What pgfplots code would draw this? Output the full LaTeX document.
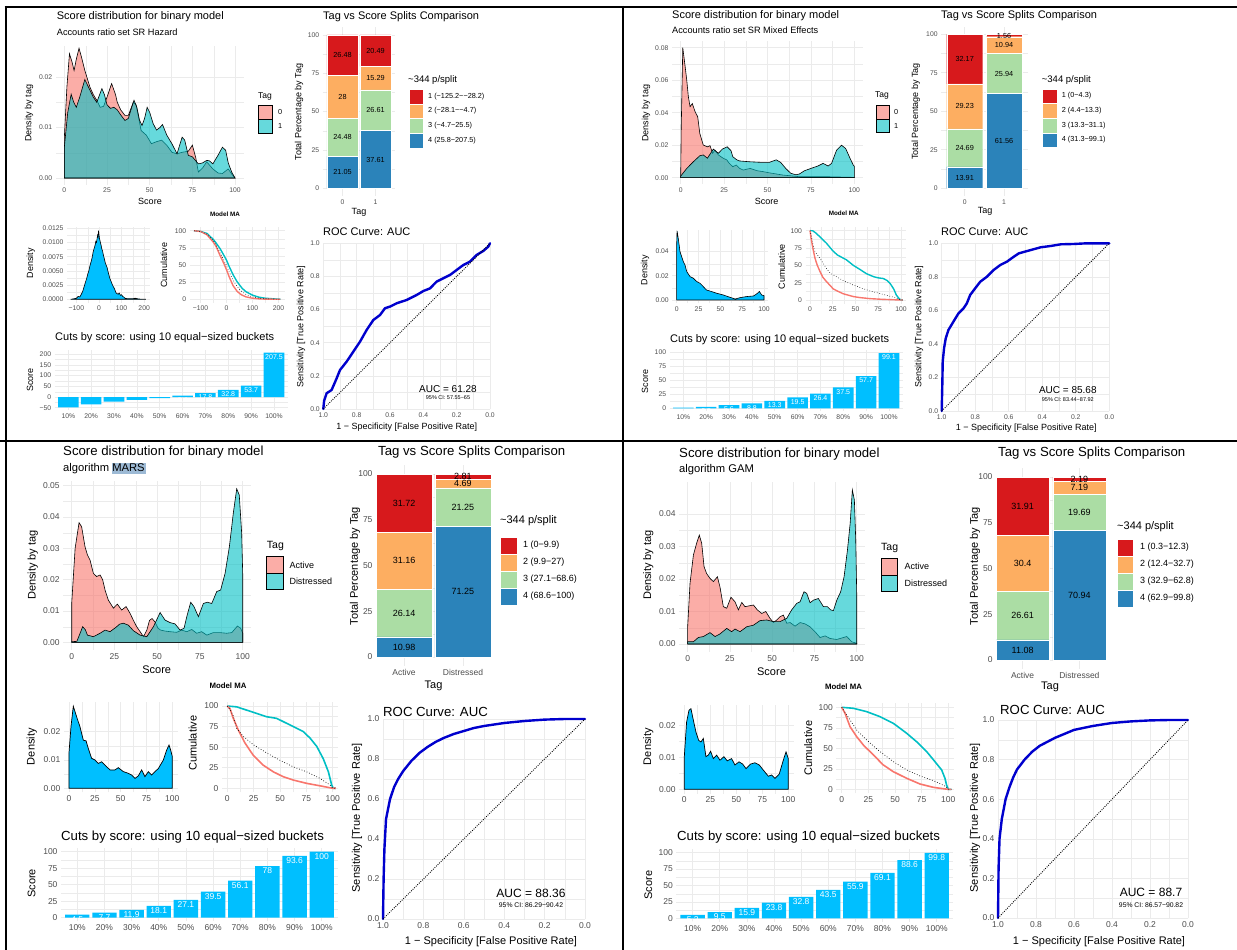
\documentclass[border=0pt]{standalone}
\usepackage{fontspec}
\setmainfont{Liberation Sans}
\usepackage{pgfplots}
\pgfplotsset{compat=1.18}
\definecolor{pinkc}{HTML}{F8766D}
\definecolor{tealc}{HTML}{00BFC4}
\definecolor{skyc}{HTML}{00BFFF}
\definecolor{gridc}{HTML}{EBEBEB}
\definecolor{tickc}{HTML}{4D4D4D}
\definecolor{sa}{HTML}{D7191C}
\definecolor{sb}{HTML}{FDAE61}
\definecolor{sc}{HTML}{ABDDA4}
\definecolor{sd}{HTML}{2B83BA}
\definecolor{rocc}{HTML}{0000CD}
\definecolor{hl}{HTML}{9DBAD5}
\newcommand{\fs}[1]{\fontsize{#1}{#1}\selectfont}
\newcommand{\tx}[4][]{\node[inner sep=0pt,#1] at (#2pt,-#3pt) {#4};}
\newcommand{\segc}[8]{%
  \coordinate (s1) at (axis cs:1,#1); \coordinate (s2) at (axis cs:1,#2);
  \coordinate (s3) at (axis cs:1,#3); \coordinate (s4) at (axis cs:1,#4);
  \coordinate (s5) at (axis cs:2,#5); \coordinate (s6) at (axis cs:2,#6);
  \coordinate (s7) at (axis cs:2,#7); \coordinate (s8) at (axis cs:2,#8);}
\newcommand{\segl}[9]{%
  \node[font=\fs{#1}] at (s1) {#2}; \node[font=\fs{#1}] at (s2) {#3};
  \node[font=\fs{#1}] at (s3) {#4}; \node[font=\fs{#1}] at (s4) {#5};
  \node[font=\fs{#1}] at (s5) {#6}; \node[font=\fs{#1}] at (s6) {#7};
  \node[font=\fs{#1}] at (s7) {#8}; \node[font=\fs{#1}] at (s8) {#9};}
\pgfplotsset{
  gg/.style={scale only axis, anchor=north west, clip=false,
    axis line style={draw=none}, major tick length=0pt, minor tick length=0pt,
    grid=both, major grid style={draw=gridc, line width=0.6pt},
    minor grid style={draw=gridc, line width=0.3pt},
    minor tick num=1, scaled ticks=false,
    tick label style={text=tickc},
    /pgf/number format/assume math mode=true},
  ggt/.style={gg, tick label style={font=\fs{6.8}}},
  ggb/.style={gg, tick label style={font=\fs{8.5}}},
  bx/.style n args={4}{at={(#1pt,-#2pt)}, width=#3pt, height=#4pt},
  dens/.style={draw=black, line width=0.6pt, fill opacity=0.6},
  stk/.style={ybar stacked, bar width=#1, minor x tick num=0, xmin=0.4, xmax=2.6,
    ymin=-5, ymax=105, xtick={1,2}, ytick={0,25,50,75,100}},
  seg/.style={draw=white, line width=0.4pt},
  cutax/.style={ybar, bar width=#1, minor x tick num=0, xtick={1,2,3,4,5,6,7,8,9,10},
    xticklabels={10\%,20\%,30\%,40\%,50\%,60\%,70\%,80\%,90\%,100\%}, xmin=0.4, xmax=10.6},
  cutbar/.style={fill=skyc, draw=none, bar shift=0pt, nodes near coords, point meta=y,
    every node near coord/.append style={text=white, anchor=north, font=\fs{#1}, inner sep=1.5pt}},
  roc/.style={x dir=reverse, xmin=0, xmax=1, ymin=0, ymax=1,
    xtick={0,0.2,0.4,0.6,0.8,1}, ytick={0,0.2,0.4,0.6,0.8,1},
    xticklabels={0.0,0.2,0.4,0.6,0.8,1.0}, yticklabels={0.0,0.2,0.4,0.6,0.8,1.0}},
  rocline/.style={rocc, line width=2.4pt, line join=round, line cap=round},
  diag/.style={black, line width=0.9pt, dash pattern=on 0.9pt off 1.3pt},
}
\begin{document}
\begin{tikzpicture}
\path[use as bounding box] (0pt,0pt) rectangle (1237pt,-950pt);
% ---------- frame ----------
\draw[line width=1.6pt] (4.5pt,-7pt) -- (1237pt,-7pt);
\draw[line width=2pt] (5.5pt,-6pt) -- (5.5pt,-950pt);
\draw[line width=2pt] (622.5pt,-6pt) -- (622.5pt,-950pt);
\draw[line width=2pt] (0pt,-441pt) -- (1237pt,-441pt);

% =================== Q1 ===================
\begin{axis}[ggt, bx={55.8}{45.7}{187.8}{138.9}, xmin=-5, xmax=105, ymin=-0.0013, ymax=0.0262,
  xtick={0,25,50,75,100}, ytick={0,0.01,0.02}, yticklabels={0.00,0.01,0.02}]
\addplot[dens, fill=pinkc] coordinates {(0,0) (0,0.0080) (1.5,0.0180) (3,0.0246) (4.5,0.0230) (5.7,0.0213) (7,0.0235) (8.6,0.0257) (10,0.0240) (12,0.0213) (15,0.0180) (17,0.0165) (19,0.0154) (21,0.0140) (23,0.0142) (25,0.0160) (27.7,0.0187) (30,0.0165) (31,0.0150) (33,0.0135) (35.5,0.0124) (37.5,0.0124) (40.4,0.0150) (42,0.0145) (45,0.0094) (48,0.0085) (51,0.0068) (54,0.0072) (57,0.0075) (60,0.0065) (63,0.0051) (66,0.0048) (69,0.0051) (72.6,0.0053) (75,0.0065) (77,0.0040) (78.5,0.0012) (81,0.0020) (83.4,0.0032) (87,0.0018) (90,0.0010) (92.6,0.0009) (96,0.0018) (98,0.0008) (100,0)} \closedcycle;
\addplot[dens, fill=tealc] coordinates {(0,0) (0,0.0061) (2,0.0130) (4,0.0166) (5.5,0.0150) (7,0.0140) (9,0.0160) (12,0.0195) (15,0.0174) (17,0.0160) (19,0.0150) (21,0.0168) (22,0.0177) (23.5,0.0165) (25,0.0145) (27,0.0138) (29,0.0140) (31,0.0135) (33,0.0125) (35.5,0.0114) (37.5,0.0118) (39,0.0135) (40.8,0.0154) (42.5,0.0140) (44,0.0115) (45.5,0.0104) (47,0.0118) (48.5,0.0140) (50,0.0130) (52,0.0108) (54,0.0095) (56,0.0100) (57.5,0.0106) (60,0.0085) (63,0.0068) (66,0.0048) (69,0.0081) (70.5,0.0075) (72.6,0.0045) (75,0.0042) (78.5,0.0028) (81,0.0030) (83.4,0.0035) (85,0.0034) (87,0.0028) (90,0.0045) (92.6,0.0061) (94.5,0.0055) (96,0.0030) (98,0.0012) (100,0)} \closedcycle;
\end{axis}
\tx[anchor=west,font=\fs{11}]{56.7}{17}{Score distribution for binary model}
\tx[anchor=west,font=\fs{9.2}]{56.7}{32}{Accounts ratio set SR Hazard}
\tx[font=\fs{9}]{150}{201}{Score}
\tx[rotate=90,font=\fs{9}]{29}{113}{Density by tag}
\tx[anchor=west,font=\fs{8.5}]{258}{96}{Tag}
\draw[fill=pinkc, fill opacity=0.6, line width=0.6pt] (258pt,-105pt) rectangle (272pt,-119pt);
\draw[fill=tealc, fill opacity=0.6, line width=0.6pt] (258pt,-119pt) rectangle (272pt,-133pt);
\tx[anchor=west,font=\fs{7.3}]{278}{112}{0}
\tx[anchor=west,font=\fs{7.3}]{278}{126}{1}

\begin{axis}[ggt, stk=31.4pt, bx={322.7}{27.3}{72.6}{168.7}, xticklabels={0,1}]
\addplot[seg, fill=sd] coordinates {(1,21.05) (2,37.61)};
\addplot[seg, fill=sc] coordinates {(1,24.48) (2,26.61)};
\addplot[seg, fill=sb] coordinates {(1,28) (2,15.29)};
\addplot[seg, fill=sa] coordinates {(1,26.48) (2,20.49)};
\segc{10.525}{33.29}{59.53}{86.77}{18.805}{50.915}{71.865}{89.755}
\end{axis}
\segl{7.3}{21.05}{24.48}{28}{26.48}{37.61}{26.61}{15.29}{20.49}
\tx[anchor=west,font=\fs{11}]{323}{17}{Tag vs Score Splits Comparison}
\tx[rotate=90,font=\fs{9}]{299}{112}{Total Percentage by Tag}
\tx[font=\fs{9}]{359}{212}{Tag}
\tx[anchor=west,font=\fs{9.5}]{408}{80}{\textasciitilde344 p/split}
\fill[sa, draw=white] (409pt,-89pt) rectangle (423pt,-103.7pt);
\fill[sb, draw=white] (409pt,-103.7pt) rectangle (423pt,-118.3pt);
\fill[sc, draw=white] (409pt,-118.3pt) rectangle (423pt,-133pt);
\fill[sd, draw=white] (409pt,-133pt) rectangle (423pt,-147.7pt);
\tx[anchor=west,font=\fs{7.3}]{428}{96.3}{1 (−125.2−−28.2)}
\tx[anchor=west,font=\fs{7.3}]{428}{111}{2 (−28.1−−4.7)}
\tx[anchor=west,font=\fs{7.3}]{428}{125.7}{3 (−4.7−25.5)}
\tx[anchor=west,font=\fs{7.3}]{428}{140.3}{4 (25.8−207.5)}

\begin{axis}[ggt, bx={67.0}{226.6}{82.6}{76.1}, xmin=-141.6, xmax=224.1, ymin=-0.0006, ymax=0.0128,
  xtick={-100,0,100,200}, xticklabels={−100,0,100,200}, ytick={0,0.0025,0.005,0.0075,0.01,0.0125},
  yticklabels={0.0000,0.0025,0.0050,0.0075,0.0100,0.0125}]
\addplot[draw=black, line width=0.6pt, fill=skyc] coordinates {(-125,0) (-110,0.0001) (-100,0.0002) (-92,0.0005) (-85,0.0004) (-78,0.0009) (-72,0.0014) (-66,0.0022) (-60,0.0030) (-55,0.0036) (-50,0.0044) (-45,0.0050) (-40,0.0059) (-35,0.0066) (-30,0.0074) (-26,0.0083) (-22,0.0089) (-18,0.0094) (-14,0.0102) (-11,0.0100) (-8,0.0108) (-6,0.0113) (-4,0.0110) (-2,0.0121) (0,0.0114) (2,0.0108) (4,0.0104) (7,0.0099) (10,0.0094) (13,0.0088) (16,0.0085) (20,0.0077) (24,0.0071) (28,0.0064) (32,0.0060) (36,0.0056) (40,0.0049) (44,0.0043) (48,0.0037) (52,0.0033) (56,0.0029) (60,0.0025) (64,0.0022) (68,0.0019) (72,0.0015) (76,0.0011) (80,0.0010) (85,0.0009) (90,0.0011) (95,0.0007) (100,0.0008) (105,0.0005) (110,0.0004) (115,0.0002) (125,0.0001) (140,0.0001) (150,0.0001) (160,0.0002) (170,0.0001) (190,0) (207.5,0)} \closedcycle;
\end{axis}
\tx[rotate=90,font=\fs{9}]{30.7}{263}{Density}

\begin{axis}[ggt, bx={189.7}{227.3}{95.1}{75.4}, xmin=-141.6, xmax=224.1, ymin=-5, ymax=105,
  xtick={-100,0,100,200}, xticklabels={−100,0,100,200}, ytick={0,25,50,75,100}]
\addplot[tealc, line width=1.4pt] coordinates {(-125,100) (-100,99) (-75,96) (-50,87) (-40,82) (-25,74) (-10,64) (0,57) (10,48) (25,36) (40,26) (50,21) (60,16) (75,11) (90,8) (100,6) (125,3) (150,1.5) (175,0.8) (207.5,0)};
\addplot[pinkc, line width=1.4pt] coordinates {(-125,100) (-100,99) (-75,94) (-50,83) (-40,77) (-25,64) (-10,52) (0,43) (10,33) (25,20) (40,12) (50,8.5) (60,6) (75,3.5) (100,1.5) (125,0.6) (150,0.2) (207.5,0)};
\addplot[black, line width=0.6pt, dotted] coordinates {(-125,100) (-100,99) (-75,95) (-50,85) (-40,79) (-25,68) (-10,57) (0,49) (10,40) (25,28) (40,19) (50,14.5) (60,11) (75,7) (100,3.5) (125,1.6) (150,0.8) (207.5,0)};
\end{axis}
\tx[font=\bfseries\fs{6.3}]{225}{214}{Model MA}
\tx[rotate=90,font=\fs{9}]{164}{265}{Cumulative}

\begin{axis}[ggt, cutax=20.6pt, bx={54.6}{349.9}{233.1}{60.1}, ymin=-60.8, ymax=220.3,
  ytick={-50,0,50,100,150,200}, yticklabels={−50,0,50,100,150,200}]
\addplot[fill=skyc, draw=none, bar shift=0pt] coordinates {(1,-48.5) (2,-33.9) (3,-22.1) (4,-13.5) (5,-4.7)};
\addplot[cutbar=7] coordinates {(6,6.4) (7,17.8) (8,32.8) (9,53.7) (10,207.5)};
\end{axis}
\tx[anchor=west,font=\fs{11}]{55}{338}{Cuts by score: using 10 equal−sized buckets}
\tx[rotate=90,font=\fs{9}]{30}{380}{Score}

\begin{axis}[ggt, roc, bx={323.3}{243.3}{166.7}{165.7}]
\addplot[rocline] coordinates {(1,0) (0.995,0.05) (0.98,0.095) (0.95,0.115) (0.92,0.185) (0.90,0.235) (0.86,0.286) (0.82,0.346) (0.78,0.406) (0.74,0.477) (0.70,0.537) (0.66,0.567) (0.63,0.608) (0.60,0.618) (0.56,0.638) (0.50,0.658) (0.44,0.688) (0.40,0.712) (0.36,0.728) (0.32,0.769) (0.28,0.789) (0.24,0.809) (0.20,0.839) (0.16,0.869) (0.12,0.889) (0.08,0.93) (0.04,0.954) (0.01,0.98) (0,1)};
\addplot[diag] coordinates {(1,0) (0,1)};
\end{axis}
\tx[anchor=west,font=\fs{11}]{323}{231.7}{ROC Curve: AUC}
\tx[rotate=90,font=\fs{9}]{301}{326.7}{Sensitivity [True Positive Rate]}
\tx[font=\fs{9}]{406.7}{426.7}{1 − Specificity [False Positive Rate]}
\tx[font=\fs{10}]{448}{389}{AUC = 61.28}
\tx[font=\fs{5.5}]{448}{397.7}{95\% CI: 57.55−65}

% =================== Q2 ===================
\begin{axis}[ggt, bx={672.0}{41.2}{191}{143}, xmin=-5, xmax=105, ymin=-0.004, ymax=0.084,
  xtick={0,25,50,75,100}, ytick={0,0.02,0.04,0.06,0.08}, yticklabels={0.00,0.02,0.04,0.06,0.08}]
\addplot[dens, fill=pinkc] coordinates {(0,0) (0.3,0.03) (1.2,0.080) (2.5,0.069) (3.5,0.060) (4.4,0.050) (5.4,0.0437) (6.7,0.0456) (8.3,0.0406) (9.8,0.0375) (11,0.0273) (13,0.0201) (15.4,0.019) (16.9,0.0197) (18.4,0.015) (19.7,0.017) (21.7,0.014) (24.6,0.0119) (26.5,0.011) (28,0.0088) (30,0.0068) (32,0.0078) (34,0.0057) (36,0.0047) (40,0.0057) (44,0.0043) (47.6,0.0037) (51,0.003) (55,0.0023) (59,0.0016) (63,0.0012) (68.5,0.0006) (76,0.0006) (84,0.0006) (92,0.0004) (100,0.0002) (100,0)} \closedcycle;
\addplot[dens, fill=tealc] coordinates {(0,0) (0,0.001) (3.5,0.0057) (7.3,0.0098) (11,0.0135) (13,0.014) (15.4,0.012) (18.8,0.0176) (21.7,0.015) (24,0.0176) (26.8,0.019) (29,0.0166) (30,0.0129) (32.3,0.011) (34,0.0103) (39.6,0.0098) (47,0.0094) (51,0.0094) (55,0.011) (57.6,0.0094) (60.5,0.0057) (63.4,0.0027) (66.4,0.0018) (68.4,0.0023) (71.3,0.0043) (75,0.0057) (79,0.0072) (82,0.0088) (84.9,0.0072) (86.9,0.0088) (89.8,0.017) (92.6,0.0200) (95,0.018) (97.5,0.012) (99.4,0.0078) (100,0.007) (100,0)} \closedcycle;
\end{axis}
\tx[anchor=west,font=\fs{11}]{672}{16}{Score distribution for binary model}
\tx[anchor=west,font=\fs{9.2}]{672}{30.7}{Accounts ratio set SR Mixed Effects}
\tx[font=\fs{9}]{766.7}{201}{Score}
\tx[rotate=90,font=\fs{9}]{646}{113}{Density by tag}
\tx[anchor=west,font=\fs{8.5}]{875}{95}{Tag}
\draw[fill=pinkc, fill opacity=0.6, line width=0.6pt] (876pt,-105pt) rectangle (889pt,-119pt);
\draw[fill=tealc, fill opacity=0.6, line width=0.6pt] (876pt,-119pt) rectangle (889pt,-132.5pt);
\tx[anchor=west,font=\fs{7.3}]{894}{112}{0}
\tx[anchor=west,font=\fs{7.3}]{894}{126}{1}

\begin{axis}[ggt, stk=36pt, bx={941.1}{26.6}{86.5}{169.4}, xticklabels={0,1}]
\addplot[seg, fill=sd] coordinates {(1,13.91) (2,61.56)};
\addplot[seg, fill=sc] coordinates {(1,24.69) (2,25.94)};
\addplot[seg, fill=sb] coordinates {(1,29.23) (2,10.94)};
\addplot[seg, fill=sa] coordinates {(1,32.17) (2,1.56)};
\segc{6.955}{26.255}{53.215}{83.875}{30.78}{74.53}{92.97}{99.22}
\end{axis}
\segl{7.3}{13.91}{24.69}{29.23}{32.17}{61.56}{25.94}{10.94}{1.56}
\tx[anchor=west,font=\fs{11}]{941}{16}{Tag vs Score Splits Comparison}
\tx[rotate=90,font=\fs{9}]{915.7}{111.7}{Total Percentage by Tag}
\tx[font=\fs{9}]{985}{211.7}{Tag}
\tx[anchor=west,font=\fs{9.5}]{1041.7}{80}{\textasciitilde344 p/split}
\fill[sa, draw=white] (1042pt,-88.7pt) rectangle (1056.7pt,-103.3pt);
\fill[sb, draw=white] (1042pt,-103.3pt) rectangle (1056.7pt,-118pt);
\fill[sc, draw=white] (1042pt,-118pt) rectangle (1056.7pt,-132.7pt);
\fill[sd, draw=white] (1042pt,-132.7pt) rectangle (1056.7pt,-147.3pt);
\tx[anchor=west,font=\fs{7.3}]{1061.7}{96}{1 (0−4.3)}
\tx[anchor=west,font=\fs{7.3}]{1061.7}{110.7}{2 (4.4−13.3)}
\tx[anchor=west,font=\fs{7.3}]{1061.7}{125.3}{3 (13.3−31.1)}
\tx[anchor=west,font=\fs{7.3}]{1061.7}{140}{4 (31.3−99.1)}

\begin{axis}[ggt, bx={672.3}{229.8}{96.1}{73.6}, xmin=-5, xmax=105, ymin=-0.00285, ymax=0.058,
  xtick={0,25,50,75,100}, ytick={0,0.02,0.04}, yticklabels={0.00,0.02,0.04}]
\addplot[draw=black, line width=0.6pt, fill=skyc] coordinates {(0,0) (0,0.045) (0.5,0.057) (2,0.050) (3.8,0.040) (5.7,0.0358) (7.6,0.0317) (9.5,0.029) (11.5,0.0235) (15.3,0.0193) (19,0.018) (23,0.0152) (26.7,0.0138) (30.5,0.011) (34,0.0083) (40,0.0069) (46,0.0055) (53.4,0.0041) (61,0.0022) (67,0.0008) (72.5,0.0019) (80,0.0028) (88,0.0033) (91.6,0.005) (94.7,0.007) (97.3,0.0041) (100,0.0036) (100,0)} \closedcycle;
\end{axis}
\tx[rotate=90,font=\fs{9}]{645}{270}{Density}

\begin{axis}[ggt, bx={805.5}{227.2}{100}{76.3}, xmin=-5, xmax=105, ymin=-5, ymax=105,
  xtick={0,25,50,75,100}, ytick={0,25,50,75,100}]
\addplot[tealc, line width=1.4pt] coordinates {(0,100) (3,99.8) (6,97) (11,91) (18,82) (25,71) (30,65) (40,58) (47.6,50) (55,44) (62,38) (70,33.6) (75,32) (80.6,31) (85,28) (88,24) (92,16) (95,7) (98,2) (100,0) (102,0)};
\addplot[pinkc, line width=1.4pt] coordinates {(0,100) (1,90) (1.8,84) (3.5,72) (5.5,60) (8,50) (11,41) (14,33) (18,26.7) (25.6,16) (30,13) (36.6,9) (47.6,5) (55,3.5) (66,2) (80,1) (100,0) (102,0)};
\addplot[black, line width=0.6pt, dotted] coordinates {(0,100) (1,95) (2.5,85) (4,76) (5.5,69.7) (11,60) (18,45.7) (22,39) (29,33.6) (38,27) (47.6,21.6) (57,17) (66,13) (75,10) (84,7) (92,4) (100,0) (102,0)};
\end{axis}
\tx[font=\bfseries\fs{6.3}]{843.7}{213.3}{Model MA}
\tx[rotate=90,font=\fs{9}]{781.7}{266.7}{Cumulative}

\begin{axis}[ggt, cutax=20.6pt, bx={669.6}{350.4}{233.1}{60.7}, ymin=-4.95, ymax=104.05,
  ytick={0,25,50,75,100}]
\addplot[cutbar=7] coordinates {(1,1.1) (2,2.5) (3,5.6) (4,8.8) (5,13.3) (6,19.5) (7,26.4) (8,37.5) (9,57.7) (10,99.1)};
\end{axis}
\tx[anchor=west,font=\fs{11}]{670}{340}{Cuts by score: using 10 equal−sized buckets}
\tx[rotate=90,font=\fs{9}]{645}{381.7}{Score}

\begin{axis}[ggt, roc, bx={941.7}{243.3}{167.6}{167.7}]
\addplot[rocline] coordinates {(1,0) (0.996,0.175) (0.994,0.294) (0.986,0.374) (0.976,0.433) (0.96,0.483) (0.93,0.533) (0.90,0.582) (0.87,0.612) (0.85,0.642) (0.83,0.692) (0.80,0.732) (0.77,0.771) (0.73,0.801) (0.69,0.841) (0.65,0.871) (0.61,0.891) (0.57,0.92) (0.54,0.94) (0.49,0.954) (0.41,0.976) (0.35,0.984) (0.29,0.994) (0.21,0.996) (0.135,1) (0,1)};
\addplot[diag] coordinates {(1,0) (0,1)};
\end{axis}
\tx[anchor=west,font=\fs{11}]{941}{231.7}{ROC Curve: AUC}
\tx[rotate=90,font=\fs{9}]{919}{326.7}{Sensitivity [True Positive Rate]}
\tx[font=\fs{9}]{1026.3}{428.3}{1 − Specificity [False Positive Rate]}
\tx[font=\fs{10}]{1067.8}{390}{AUC = 85.68}
\tx[font=\fs{5.5}]{1067.8}{400}{95\% CI: 83.44−87.92}

% =================== Q3 ===================
\begin{axis}[ggb, bx={63.15}{481.3}{188.1}{168.7}, xmin=-5, xmax=105, ymin=-0.00245, ymax=0.0514,
  xtick={0,25,50,75,100}, ytick={0,0.01,0.02,0.03,0.04,0.05}, yticklabels={0.00,0.01,0.02,0.03,0.04,0.05}]
\addplot[dens, fill=pinkc] coordinates {(0,0) (0,0.0124) (2,0.030) (4.3,0.0382) (5.8,0.0369) (7.8,0.0305) (9.2,0.0279) (10.7,0.0263) (12.7,0.022) (14.6,0.021) (16.6,0.0215) (18.1,0.020) (19.5,0.0167) (21.4,0.0135) (24.4,0.0109) (26.7,0.0122) (29.2,0.0103) (31.8,0.0114) (34.1,0.0093) (36.1,0.0070) (38,0.0050) (40,0.0034) (42,0.0018) (44,0.0040) (45.5,0.0070) (47,0.0076) (48.7,0.0065) (50.5,0.0045) (52,0.0039) (54.6,0.0036) (57.5,0.0034) (61.4,0.0032) (64.3,0.0039) (67.3,0.0034) (70.2,0.0041) (73.1,0.0029) (76,0.0034) (79,0.0023) (82.8,0.0031) (86.7,0.0031) (90.6,0.0029) (93.6,0.0031) (96.9,0.0052) (98.8,0.0045) (100,0.0029) (100,0)} \closedcycle;
\addplot[dens, fill=tealc] coordinates {(0,0) (0,0.0002) (3,0.0003) (5,0.0030) (6.4,0.0050) (8,0.0040) (9.2,0.0023) (12.7,0.0018) (16.6,0.0029) (19.5,0.0039) (22.4,0.0034) (25.9,0.0048) (28,0.0058) (30.2,0.0061) (33.1,0.0055) (36.1,0.0037) (40,0.0023) (43.9,0.0018) (47.8,0.0050) (51.7,0.0095) (54.6,0.0071) (57.5,0.0063) (60.4,0.0059) (63.4,0.0039) (65.7,0.0045) (67.3,0.0082) (69.6,0.0128) (71.5,0.0114) (74.1,0.0082) (77,0.0124) (79.3,0.0128) (81.9,0.0124) (84.8,0.0162) (87.1,0.0167) (89.7,0.0220) (92.2,0.0305) (94.5,0.0412) (96.5,0.0490) (98,0.0470) (99.4,0.0348) (100,0.022) (100,0)} \closedcycle;
\end{axis}
\tx[anchor=west,font=\fs{13.2}]{63}{451.7}{Score distribution for binary model}
\fill[hl] (112.3pt,-462.5pt) rectangle (145.5pt,-474.3pt);
\tx[anchor=west,font=\fs{11.2}]{63}{468.3}{algorithm MARS}
\tx[font=\fs{11}]{156.7}{670}{Score}
\tx[rotate=90,font=\fs{11}]{32.7}{565}{Density by tag}
\tx[anchor=west,font=\fs{10.5}]{266.7}{546}{Tag}
\draw[fill=pinkc, fill opacity=0.6, line width=0.7pt] (266.7pt,-556.7pt) rectangle (283.3pt,-573pt);
\draw[fill=tealc, fill opacity=0.6, line width=0.7pt] (266.7pt,-573pt) rectangle (283.3pt,-589.3pt);
\tx[anchor=west,font=\fs{9}]{289.3}{565}{Active}
\tx[anchor=west,font=\fs{9}]{289.3}{581.5}{Distressed}
\tx[font=\bfseries\fs{7.8}]{228}{686}{Model MA}

\begin{axis}[ggb, stk=56pt, bx={376}{464.9}{115}{201.3}, xmin=0.525, xmax=2.475, xticklabels={Active,Distressed}]
\addplot[seg, fill=sd] coordinates {(1,10.98) (2,71.25)};
\addplot[seg, fill=sc] coordinates {(1,26.14) (2,21.25)};
\addplot[seg, fill=sb] coordinates {(1,31.16) (2,4.69)};
\addplot[seg, fill=sa] coordinates {(1,31.72) (2,2.81)};
\segc{5.49}{24.05}{52.7}{84.14}{35.625}{81.875}{94.845}{98.595}
\end{axis}
\segl{9}{10.98}{26.14}{31.16}{31.72}{71.25}{21.25}{4.69}{2.81}
\tx[anchor=west,font=\fs{13.2}]{378}{452}{Tag vs Score Splits Comparison}
\tx[rotate=90,font=\fs{11}]{355}{566}{Total Percentage by Tag}
\tx[font=\fs{11}]{433.5}{686}{Tag}
\tx[anchor=west,font=\fs{11}]{500}{521}{\textasciitilde344 p/split}
\fill[sa, draw=white] (500pt,-537pt) rectangle (517pt,-554pt);
\fill[sb, draw=white] (500pt,-554pt) rectangle (517pt,-571pt);
\fill[sc, draw=white] (500pt,-571pt) rectangle (517pt,-588pt);
\fill[sd, draw=white] (500pt,-588pt) rectangle (517pt,-605pt);
\tx[anchor=west,font=\fs{9}]{523}{545.5}{1 (0−9.9)}
\tx[anchor=west,font=\fs{9}]{523}{562.5}{2 (9.9−27)}
\tx[anchor=west,font=\fs{9}]{523}{579.5}{3 (27.1−68.6)}
\tx[anchor=west,font=\fs{9}]{523}{596.5}{4 (68.6−100)}

\begin{axis}[ggb, bx={63.8}{702}{113.7}{90.4}, xmin=-5, xmax=105, ymin=-0.00145, ymax=0.0305,
  xtick={0,25,50,75,100}, ytick={0,0.01,0.02}, yticklabels={0.00,0.01,0.02}]
\addplot[draw=black, line width=0.7pt, fill=skyc] coordinates {(0,0) (0,0.0124) (2,0.022) (4.2,0.029) (7.4,0.0253) (10.6,0.0218) (13.9,0.017) (16.5,0.0168) (18.7,0.0141) (21.9,0.0106) (25.2,0.0100) (28.4,0.0088) (31.6,0.0094) (34.8,0.0082) (39.7,0.0065) (44.5,0.0065) (47.7,0.0073) (52.6,0.0059) (57.4,0.0053) (60.6,0.0047) (63.9,0.0035) (67.1,0.0044) (70.3,0.0065) (73.5,0.0041) (76.8,0.0059) (80,0.0047) (83.2,0.0059) (86.5,0.0070) (91.3,0.0100) (94.5,0.0135) (96.8,0.0153) (98.4,0.0135) (100,0.0112) (100,0)} \closedcycle;
\end{axis}
\tx[rotate=90,font=\fs{11}]{31.7}{746.7}{Density}

\begin{axis}[ggb, bx={222}{701.9}{116}{90.5}, xmin=-5, xmax=105, ymin=-5, ymax=105,
  xtick={0,25,50,75,100}, ytick={0,25,50,75,100}]
\addplot[tealc, line width=1.6pt] coordinates {(0,100) (8.9,99) (18.4,95) (27.8,91) (37.3,87) (46.8,85) (56.3,79) (65.8,73) (72,69) (78.5,61) (84.8,51) (91,36) (95.9,20) (99,4) (100.6,0) (103,0)};
\addplot[pinkc, line width=1.6pt] coordinates {(0,100) (2.5,97) (5.7,85) (10.4,71) (16.8,55) (24.7,40) (34.2,28) (43.7,20) (53.2,14) (62.7,10) (75.3,6) (88,3) (100,0) (103,0)};
\addplot[black, line width=0.7pt, dotted] coordinates {(0,100) (3,95) (5.7,88) (8.9,73) (15.2,63) (24.7,53) (37.3,43) (50,34) (62.7,26) (75.3,20) (88,12) (97.5,4) (100,0) (103,0)};
\end{axis}
\tx[rotate=90,font=\fs{11}]{192.7}{743.3}{Cumulative}

\begin{axis}[ggb, cutax=24.4pt, bx={61}{848.4}{277}{72.6}, ymin=-5, ymax=105, ytick={0,25,50,75,100}]
\addplot[cutbar=8.5] coordinates {(1,4.5) (2,7.7) (3,11.9) (4,18.1) (5,27.1) (6,39.5) (7,56.1) (8,78) (9,93.6) (10,100)};
\end{axis}
\tx[anchor=west,font=\fs{13.2}]{61}{836.7}{Cuts by score: using 10 equal−sized buckets}
\tx[rotate=90,font=\fs{11}]{31.7}{883.3}{Score}

\begin{axis}[ggb, roc, bx={383}{719}{202}{200}]
\addplot[rocline] coordinates {(1,0) (0.997,0.2) (0.993,0.35) (0.985,0.5) (0.965,0.6) (0.945,0.66) (0.925,0.7) (0.9,0.74) (0.86,0.79) (0.82,0.83) (0.78,0.86) (0.74,0.885) (0.7,0.905) (0.65,0.925) (0.6,0.94) (0.55,0.955) (0.5,0.965) (0.4,0.98) (0.3,0.99) (0.2,0.997) (0.1,1) (0,1)};
\addplot[diag] coordinates {(1,0) (0,1)};
\end{axis}
\tx[anchor=west,font=\fs{13.2}]{383}{712}{ROC Curve: AUC}
\tx[rotate=90,font=\fs{11}]{357}{818}{Sensitivity [True Positive Rate]}
\tx[font=\fs{11}]{491}{942}{1 − Specificity [False Positive Rate]}
\tx[font=\fs{12}]{531}{893}{AUC = 88.36}
\tx[font=\fs{6.8}]{531}{905}{95\% CI: 86.29−90.42}

% =================== Q4 ===================
\begin{axis}[ggb, bx={679.2}{482.2}{186}{169.6}, xmin=-5, xmax=105, ymin=-0.0024, ymax=0.0498,
  xtick={0,25,50,75,100}, ytick={0,0.01,0.02,0.03,0.04}, yticklabels={0.00,0.01,0.02,0.03,0.04}]
\addplot[dens, fill=pinkc] coordinates {(0,0) (0,0.0053) (1.4,0.0187) (3.4,0.0274) (5.3,0.031) (6.9,0.0335) (8.3,0.031) (9.7,0.0238) (11.2,0.0217) (13.2,0.0202) (15.2,0.0192) (17.6,0.0207) (19.1,0.0176) (21.1,0.0115) (23.1,0.011) (25.6,0.0144) (28,0.013) (30,0.0105) (32,0.0128) (33.9,0.0115) (36.9,0.0118) (38.9,0.012) (41.2,0.0105) (43.8,0.0094) (46.2,0.01) (48.7,0.0079) (50.7,0.0066) (52.7,0.0074) (54.6,0.0084) (56.6,0.0089) (58.6,0.0064) (60.6,0.0066) (63.5,0.0055) (66.5,0.0066) (69.4,0.0062) (72.4,0.0053) (75.3,0.0038) (78.3,0.002) (81.3,0.0025) (84.2,0.0017) (88.2,0.0014) (92.1,0.002) (94.1,0.0023) (97,0.0007) (100,0.0002) (100,0)} \closedcycle;
\addplot[dens, fill=tealc] coordinates {(0,0) (0,0.0007) (3.4,0.0007) (6.3,0.002) (9.3,0.0023) (13.2,0.0035) (16.2,0.0023) (19.1,0.0031) (23.1,0.0048) (26,0.0038) (28,0.0046) (31,0.0038) (34.9,0.0053) (38.9,0.0058) (42.8,0.0072) (46.7,0.0074) (50.7,0.0069) (54.6,0.0069) (58.6,0.0079) (61.5,0.0105) (64.5,0.0125) (66.5,0.013) (68.8,0.0161) (70.4,0.0156) (72.4,0.0127) (74.4,0.0135) (77.3,0.014) (80.3,0.0115) (82.6,0.0115) (84.6,0.0105) (86.2,0.0103) (88.2,0.0135) (90.5,0.0161) (92.5,0.0207) (94.5,0.0289) (96.1,0.0371) (97.4,0.0474) (98.6,0.0443) (99.4,0.032) (100,0.015) (100,0)} \closedcycle;
\end{axis}
\tx[anchor=west,font=\fs{13.2}]{679}{454}{Score distribution for binary model}
\tx[anchor=west,font=\fs{11.2}]{679}{470}{algorithm GAM}
\tx[font=\fs{11}]{771.5}{671.7}{Score}
\tx[rotate=90,font=\fs{11}]{648.3}{565}{Density by tag}
\tx[anchor=west,font=\fs{10.5}]{881}{548.3}{Tag}
\draw[fill=pinkc, fill opacity=0.6, line width=0.7pt] (881pt,-558.3pt) rectangle (897.7pt,-575pt);
\draw[fill=tealc, fill opacity=0.6, line width=0.7pt] (881pt,-575pt) rectangle (897.7pt,-591.7pt);
\tx[anchor=west,font=\fs{9}]{904.3}{566.7}{Active}
\tx[anchor=west,font=\fs{9}]{904.3}{583.3}{Distressed}
\tx[font=\bfseries\fs{7.8}]{843.5}{687}{Model MA}

\begin{axis}[ggb, stk=53pt, bx={996}{467.9}{110}{201.3}, xmin=0.531, xmax=2.469, xticklabels={Active,Distressed}]
\addplot[seg, fill=sd] coordinates {(1,11.08) (2,70.94)};
\addplot[seg, fill=sc] coordinates {(1,26.61) (2,19.69)};
\addplot[seg, fill=sb] coordinates {(1,30.4) (2,7.19)};
\addplot[seg, fill=sa] coordinates {(1,31.91) (2,2.19)};
\segc{5.54}{24.385}{52.89}{84.045}{35.47}{80.785}{94.225}{98.915}
\end{axis}
\segl{9}{11.08}{26.61}{30.4}{31.91}{70.94}{19.69}{7.19}{2.19}
\tx[anchor=west,font=\fs{13.2}]{998}{453}{Tag vs Score Splits Comparison}
\tx[rotate=90,font=\fs{11}]{975}{566}{Total Percentage by Tag}
\tx[font=\fs{11}]{1050}{687}{Tag}
\tx[anchor=west,font=\fs{11}]{1117}{527}{\textasciitilde344 p/split}
\fill[sa, draw=white] (1117pt,-539pt) rectangle (1133pt,-556pt);
\fill[sb, draw=white] (1117pt,-556pt) rectangle (1133pt,-573pt);
\fill[sc, draw=white] (1117pt,-573pt) rectangle (1133pt,-590pt);
\fill[sd, draw=white] (1117pt,-590pt) rectangle (1133pt,-607pt);
\tx[anchor=west,font=\fs{9}]{1140}{547.5}{1 (0.3−12.3)}
\tx[anchor=west,font=\fs{9}]{1140}{564.5}{2 (12.4−32.7)}
\tx[anchor=west,font=\fs{9}]{1140}{581.5}{3 (32.9−62.8)}
\tx[anchor=west,font=\fs{9}]{1140}{598.5}{4 (62.9−99.8)}

\begin{axis}[ggb, bx={679.1}{704.5}{114.4}{89}, xmin=-5, xmax=105, ymin=-0.0013, ymax=0.0265,
  xtick={0,25,50,75,100}, ytick={0,0.01,0.02}, yticklabels={0.00,0.01,0.02}]
\addplot[draw=black, line width=0.7pt, fill=skyc] coordinates {(0,0) (0,0.0102) (2.2,0.021) (4.5,0.0247) (6.4,0.0252) (8.7,0.0216) (11.2,0.0179) (13.8,0.0153) (16,0.0148) (18.3,0.0159) (20.8,0.0102) (23.1,0.0107) (25.3,0.0119) (27.9,0.0096) (31.1,0.0107) (34.3,0.0091) (38.1,0.0102) (41.3,0.0089) (45.5,0.0096) (48.7,0.0076) (52.6,0.0086) (56.1,0.0079) (59.3,0.0065) (63.8,0.0079) (67.9,0.0083) (72.1,0.0076) (76,0.006) (80.8,0.0041) (84,0.0045) (87.2,0.0034) (91.3,0.0048) (95.2,0.0091) (97.8,0.0117) (100,0.0096) (100,0)} \closedcycle;
\end{axis}
\tx[rotate=90,font=\fs{11}]{648.3}{746.7}{Density}

\begin{axis}[ggb, bx={836.4}{703.2}{117.2}{90.2}, xmin=-5, xmax=105, ymin=-5, ymax=105,
  xtick={0,25,50,75,100}, ytick={0,25,50,75,100}]
\addplot[tealc, line width=1.6pt] coordinates {(0,100) (10.9,98.8) (23.4,94.7) (35.9,88.6) (48.4,80.5) (61,68.3) (70.3,58) (79.7,46) (87.5,33.7) (93.8,23.6) (96.9,13.4) (98.4,5.3) (100,0) (103,0)};
\addplot[pinkc, line width=1.6pt] coordinates {(0,100) (3.1,92.7) (7.8,76.4) (14,64.2) (20.3,54) (29.7,41.9) (39,29.7) (48.4,21.5) (61,13.4) (73.4,6.5) (86,2.4) (97,0.4) (100,0) (103,0)};
\addplot[black, line width=0.7pt, dotted] coordinates {(0,100) (7.8,84.6) (14,72.4) (23.4,60) (35.9,46) (48.4,33.7) (61,23.6) (73.4,16.3) (86,10.6) (97,4) (100,0) (103,0)};
\end{axis}
\tx[rotate=90,font=\fs{11}]{808.3}{748.3}{Cumulative}

\begin{axis}[ggb, cutax=24.4pt, bx={676.4}{849.4}{276.6}{72.2}, ymin=-5, ymax=105, ytick={0,25,50,75,100}]
\addplot[cutbar=8.5] coordinates {(1,5.2) (2,9.5) (3,15.9) (4,23.8) (5,32.8) (6,43.5) (7,55.9) (8,69.1) (9,88.6) (10,99.8)};
\end{axis}
\tx[anchor=west,font=\fs{13.2}]{677}{836.7}{Cuts by score: using 10 equal−sized buckets}
\tx[rotate=90,font=\fs{11}]{648.3}{885}{Score}

\begin{axis}[ggb, roc, bx={998}{720}{190}{198}]
\addplot[rocline] coordinates {(1,0) (0.997,0.25) (0.992,0.4) (0.98,0.5) (0.96,0.6) (0.94,0.66) (0.92,0.71) (0.9,0.75) (0.86,0.8) (0.82,0.84) (0.78,0.87) (0.74,0.89) (0.7,0.91) (0.65,0.93) (0.6,0.95) (0.5,0.97) (0.4,0.985) (0.3,0.993) (0.2,0.998) (0.1,1) (0,1)};
\addplot[diag] coordinates {(1,0) (0,1)};
\end{axis}
\tx[anchor=west,font=\fs{13.2}]{1000}{710}{ROC Curve: AUC}
\tx[rotate=90,font=\fs{11}]{975}{818}{Sensitivity [True Positive Rate]}
\tx[font=\fs{11}]{1099}{942}{1 − Specificity [False Positive Rate]}
\tx[font=\fs{12}]{1151}{892}{AUC = 88.7}
\tx[font=\fs{6.8}]{1151}{905}{95\% CI: 86.57−90.82}
\end{tikzpicture}
\end{document}
